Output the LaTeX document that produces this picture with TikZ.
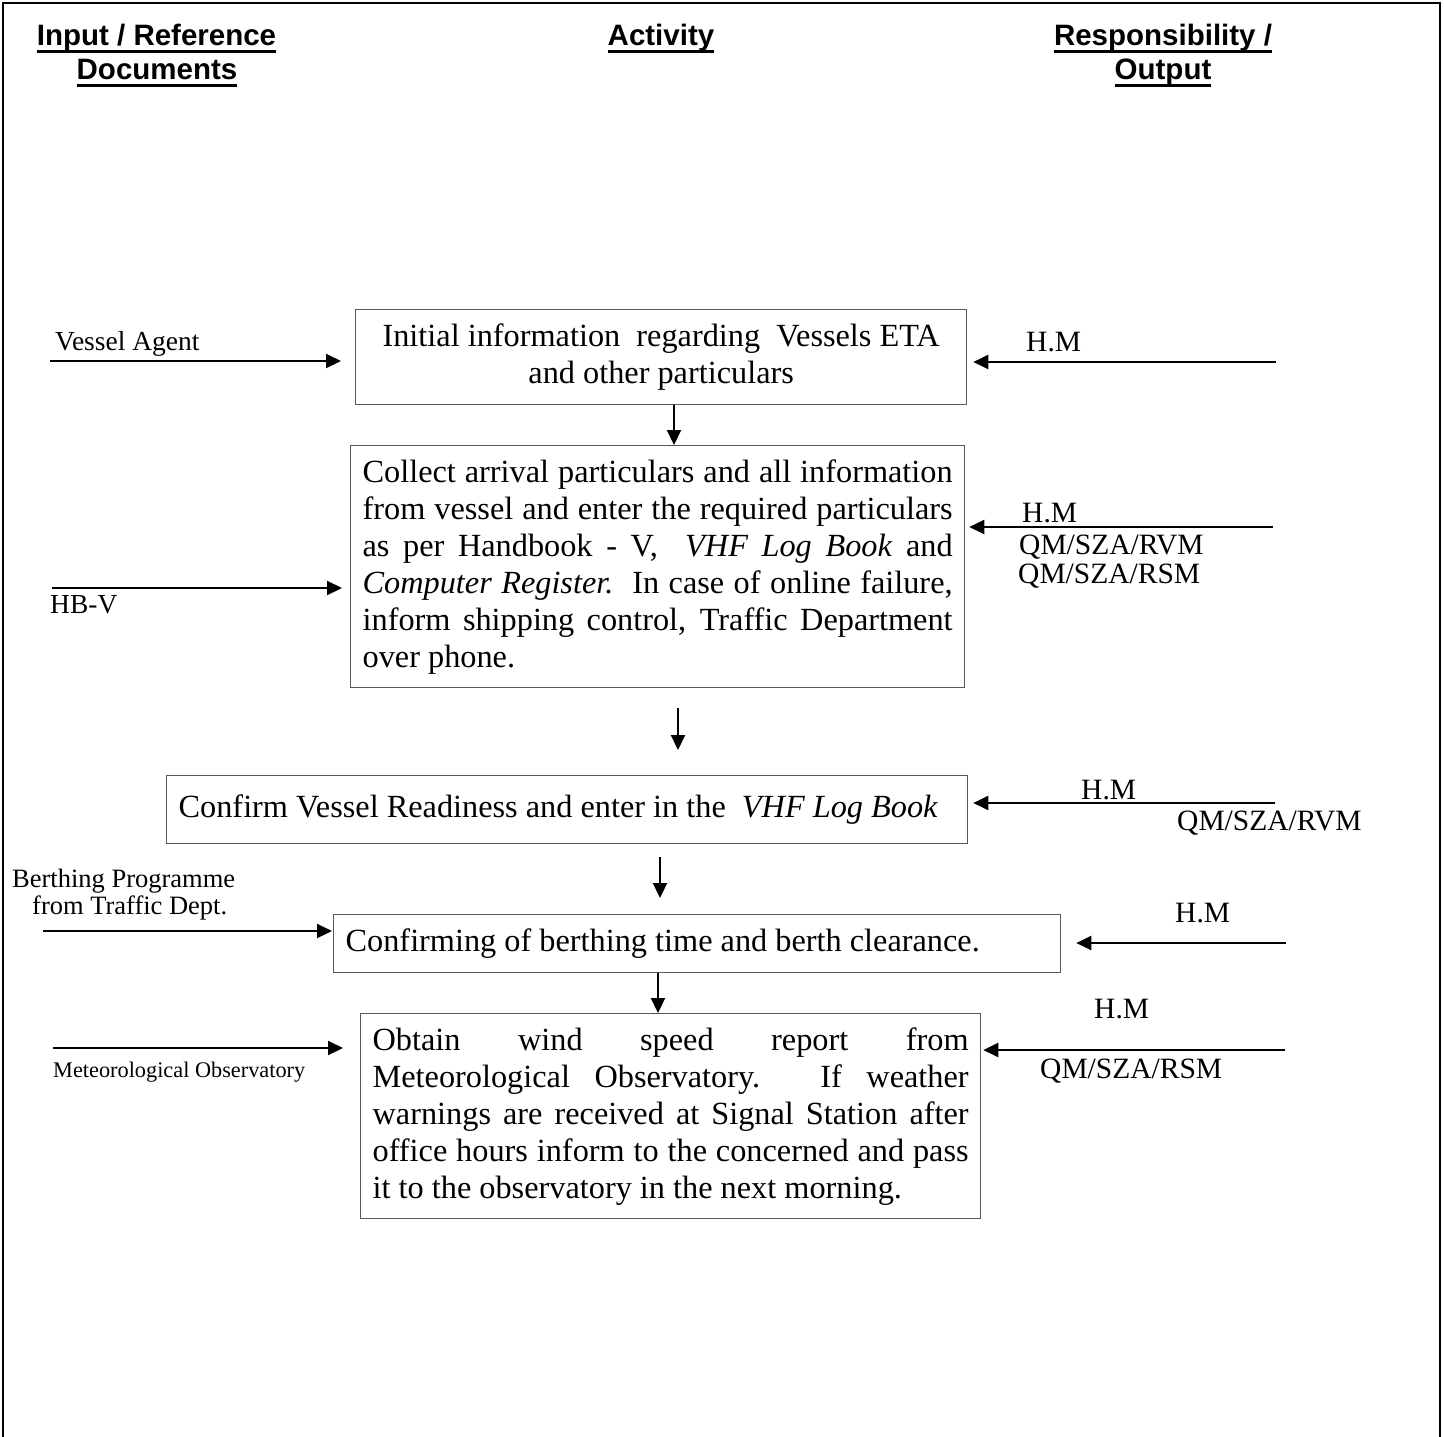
\documentclass[tikz,border=0pt]{standalone}
\usepackage{fontspec}
\setmainfont{Liberation Serif}
\newfontfamily\headfont{Liberation Sans}
\usetikzlibrary{arrows.meta}
\newcommand\hdul[1]{\setbox0\hbox{#1}\rlap{\rule[-8pt]{\wd0}{3pt}}\box0}
\newcommand\jline[2]{\makebox[#1][s]{#2}}
\begin{document}
\begin{tikzpicture}[x=1pt,y=-1pt,
  box/.style={draw=black!65, line width=1.3pt, anchor=north west, inner xsep=12pt, inner ysep=0pt,
              font=\fontsize{32.3}{37}\selectfont},
  arr/.style={line width=2.2pt, -{Triangle[length=15pt,width=14pt]}},
  lbl/.style={anchor=base west, inner sep=0pt, font=\fontsize{27.5}{30}\selectfont},
  slbl/.style={anchor=base west, inner sep=0pt, font=\fontsize{26.5}{28}\selectfont},
  rlbl/.style={anchor=base west, inner sep=0pt, font=\fontsize{29.5}{32}\selectfont},
  mlbl/.style={anchor=base west, inner sep=0pt, font=\fontsize{22.3}{25}\selectfont},
  head/.style={anchor=base, inner sep=0pt, font=\headfont\bfseries\fontsize{29.5}{34}\selectfont},
  frame/.style={line width=1.6pt}]
\useasboundingbox (0,0) rectangle (1444,1436);
\draw[frame] (3,1437) -- (3,3) -- (1440,3) -- (1440,1437);

% headings
\node[head] (h1a) at (156.5,45) {\hdul{Input / Reference}};
\node[head] (h1b) at (157,79) {\hdul{Documents}};
\node[head] (h2) at (661,45) {\hdul{Activity}};
\node[head] (h3a) at (1163,45) {\hdul{Responsibility /}};
\node[head] (h3b) at (1163,79) {\hdul{Output}};

% boxes
\node[box, align=center, minimum width=611pt, minimum height=95pt] (b1) at (355,309)
  {Initial information\ \ regarding\ \ Vessels ETA\\and other particulars};
\node[box, align=left, minimum width=614pt, minimum height=242pt] (b2) at (350,445)
  {\jline{590pt}{Collect arrival particulars and all information}\\
   \jline{590pt}{from vessel and enter the required particulars}\\
   \jline{590pt}{as per Handbook - V,\ \ \textit{VHF Log Book} and}\\
   \jline{590pt}{\textit{Computer Register.}\ \ In case of online failure,}\\
   \jline{590pt}{inform shipping control, Traffic Department}\\
   over phone.};
\node[box, align=flush left, text width=777pt, minimum height=68pt] (b3) at (166,775)
  {Confirm Vessel Readiness and enter in the\ \ \textit{VHF Log Book}};
\node[box, align=flush left, text width=703pt, minimum height=58pt] (b4) at (333,914)
  {Confirming of berthing time and berth clearance.};
\node[box, align=left, minimum width=620pt, minimum height=205pt] (b5) at (360,1013)
  {\jline{596pt}{Obtain wind speed report from}\\
   \jline{596pt}{Meteorological Observatory. If weather}\\
   \jline{596pt}{warnings are received at Signal Station after}\\
   \jline{596pt}{office hours inform to the concerned and pass}\\
   it to the observatory in the next morning.};

% vertical arrows
\coordinate (c674) at (674,0);
\coordinate (c658) at (658,0);
\draw[arr] (b1.south -| c674) -- (b2.north -| c674);
\coordinate (f1) at (678,708);
\coordinate (f2) at (678,750);
\draw[arr] (f1) -- (f2);
\coordinate (f3) at (660,857);
\coordinate (f4) at (660,898);
\draw[arr] (f3) -- (f4);
\draw[arr] (b4.south -| c658) -- (b5.north -| c658);

% left inputs
\coordinate (la1) at (50,361);
\coordinate (la2) at (52,588);
\coordinate (la3) at (43,931);
\coordinate (la4) at (53,1048);
\draw[arr, shorten >=14pt] (la1) -- (b1.west |- la1);
\draw[arr, shorten >=8pt] (la2) -- (b2.west |- la2);
\draw[arr, shorten >=1pt] (la3) -- (b4.west |- la3);
\draw[arr, shorten >=17pt] (la4) -- (b5.west |- la4);
\node[lbl] (l1) at (55,350) {Vessel Agent};
\node[lbl] (l2) at (50,613) {HB-V};
\node[slbl] (l3a) at (12,887) {Berthing Programme};
\node[slbl] (l3b) at (32,914) {from Traffic Dept.};
\node[mlbl] (l4) at (53,1077) {Meteorological Observatory};

% right responsibilities
\coordinate (ra1) at (1276,362);
\coordinate (ra2) at (1273,527);
\coordinate (ra3) at (1275,803);
\coordinate (ra4) at (1286,943);
\coordinate (ra5) at (1285,1050);
\draw[arr, shorten >=6pt] (ra1) -- (b1.east |- ra1);
\draw[arr, shorten >=4pt] (ra2) -- (b2.east |- ra2);
\draw[arr, shorten >=5pt] (ra3) -- (b3.east |- ra3);
\draw[arr, shorten >=15pt] (ra4) -- (b4.east |- ra4);
\draw[arr, shorten >=2pt] (ra5) -- (b5.east |- ra5);
\node[rlbl] (r1) at (1026,351) {H.M};
\node[rlbl] (r2a) at (1022,522) {H.M};
\node[rlbl] (r2b) at (1019,554) {QM/SZA/RVM};
\node[rlbl] (r2c) at (1018,583) {QM/SZA/RSM};
\node[rlbl] (r3a) at (1081,799) {H.M};
\node[rlbl] (r3b) at (1177,830) {QM/SZA/RVM};
\node[rlbl] (r4) at (1175,922) {H.M};
\node[rlbl] (r5a) at (1094,1018) {H.M};
\node[rlbl] (r5b) at (1040,1078) {QM/SZA/RSM};
\end{tikzpicture}
\end{document}
